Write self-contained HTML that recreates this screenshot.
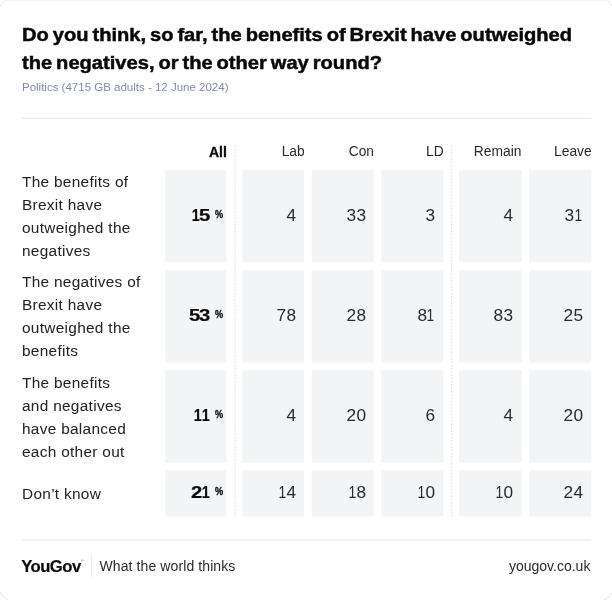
<!DOCTYPE html>
<html lang="en">
<head>
<meta charset="utf-8">
<title>YouGov</title>
<style>
*{box-sizing:border-box;margin:0;padding:0}
html,body{width:612px;height:600px;background:#fff;overflow:hidden}
body{font-family:"Liberation Sans",sans-serif;color:#222;position:relative}
.card{position:absolute;left:0;top:0;width:612px;height:600px;background:#fff}
.edge{position:absolute;left:0;top:0;width:612px;height:600px;pointer-events:none}
#wrap{position:absolute;left:0;top:0;width:612px;height:600px;will-change:transform}
.abs{position:absolute;white-space:nowrap}
h1{position:absolute;left:21.6px;top:21.2px;font-size:18.2px;line-height:28.3px;font-weight:700;color:#080808;white-space:nowrap;word-spacing:-1.5px;transform:scaleX(1.106);transform-origin:0 0;-webkit-text-stroke:.45px #080808}
.sub{left:22px;top:79.6px;font-size:11.5px;line-height:14px;color:#848aaa}
.h{position:absolute;font-size:13.8px;line-height:16px;text-align:right;width:80px;color:#2a2a2a;white-space:nowrap;top:144.2px;transform:translateY(.4px)}
.h.b{font-weight:700;font-size:14px;color:#0b0b0b;-webkit-text-stroke:.3px #0b0b0b}
.lbl{position:absolute;left:22px;font-size:15.4px;line-height:23px;letter-spacing:.3px;color:#222;white-space:nowrap}
.n{position:absolute;font-size:15.7px;line-height:18px;text-align:right;width:60px;color:#2a2a2a;white-space:nowrap}
.n.b{font-weight:700;font-size:16.6px;color:#0b0b0b;-webkit-text-stroke:.2px #0b0b0b}
.d{display:inline-block;transform:scaleX(1.1);margin:0 .62px}
.d1{margin:0 -.6px;transform:scaleX(.88)}
.d1:last-child{margin-right:.3px}
.n.b .d{transform:scaleX(1.22);margin:0 .63px}
.n.b .d1{margin:0 -.9px;transform:scaleX(.86)}
.n.b .d1:last-child{margin-right:.2px}
.p{position:absolute;font-size:10.4px;line-height:10px;font-weight:700;color:#0b0b0b;transform:scaleX(.88);transform-origin:0 0;-webkit-text-stroke:.3px #0b0b0b}
</style>
</head>
<body>
<div class="card"></div>
<div id="wrap">
<svg class="edge" viewBox="0 0 612 600" aria-hidden="true">
<rect x="4" y="0" width="604" height="1.3" fill="#f3f5f8"/>
<g fill="none" stroke="#dfe5ea" stroke-width="1" stroke-linecap="round">
<path d="M-0.2 7 Q1.4 3 4.4 0.8"/>
<path d="M607.8 0.8 Q610.6 2.6 612.2 6"/>
<path d="M0 591.6 A14 14 0 0 0 8.5 600"/>
<path d="M612 592.7 A14 14 0 0 1 604 600"/>
</g>
</svg>
<h1>Do you think, so far, the benefits of Brexit have outweighed<br>the negatives, or the other way round?</h1>
<div class="abs sub">Politics (4715 GB adults - 12 June 2024)</div>

<div class="h b" style="left:146.8px">All</div>
<div class="h" style="left:224.7px">Lab</div>
<div class="h" style="left:294.0px">Con</div>
<div class="h" style="left:363.7px">LD</div>
<div class="h" style="left:441.4px">Remain</div>
<div class="h" style="left:511.7px">Leave</div>
<svg class="edge" viewBox="0 0 612 600" aria-hidden="true">
<g fill="#f3f4f6">
<rect x="165.1" y="169.9" width="61.30" height="92.40"/>
<rect x="242.5" y="169.9" width="61.50" height="92.40"/>
<rect x="311.6" y="169.9" width="62.20" height="92.40"/>
<rect x="381.4" y="169.9" width="62.00" height="92.40"/>
<rect x="458.9" y="169.9" width="62.80" height="92.40"/>
<rect x="529.3" y="169.9" width="62.10" height="92.40"/>
<rect x="165.1" y="270.3" width="61.30" height="92.20"/>
<rect x="242.5" y="270.3" width="61.50" height="92.20"/>
<rect x="311.6" y="270.3" width="62.20" height="92.20"/>
<rect x="381.4" y="270.3" width="62.00" height="92.20"/>
<rect x="458.9" y="270.3" width="62.80" height="92.20"/>
<rect x="529.3" y="270.3" width="62.10" height="92.20"/>
<rect x="165.1" y="370.3" width="61.30" height="92.30"/>
<rect x="242.5" y="370.3" width="61.50" height="92.30"/>
<rect x="311.6" y="370.3" width="62.20" height="92.30"/>
<rect x="381.4" y="370.3" width="62.00" height="92.30"/>
<rect x="458.9" y="370.3" width="62.80" height="92.30"/>
<rect x="529.3" y="370.3" width="62.10" height="92.30"/>
<rect x="165.1" y="470.3" width="61.30" height="46.10"/>
<rect x="242.5" y="470.3" width="61.50" height="46.10"/>
<rect x="311.6" y="470.3" width="62.20" height="46.10"/>
<rect x="381.4" y="470.3" width="62.00" height="46.10"/>
<rect x="458.9" y="470.3" width="62.80" height="46.10"/>
<rect x="529.3" y="470.3" width="62.10" height="46.10"/>
</g>
<g stroke="#e3e4ea" stroke-width="1.3" stroke-dasharray="1.6 1.67" fill="none">
<path d="M235.1 145.6V516.6"/><path d="M451.6 145.6V516.6"/>
</g>
<g fill="#e9e9ee"><rect x="20.8" y="117.8" width="570.5" height="1.2"/><rect x="20.8" y="539.3" width="570.5" height="1.2"/></g>
</svg>
<div class="n b" style="left:150.2px;top:206.7px"><span class="d d1">1</span><span class="d">5</span></div>
<div class="p" style="left:215.0px;top:210.0px">%</div>
<div class="n" style="left:236.1px;top:206.8px"><span class="d">4</span></div>
<div class="n" style="left:305.9px;top:206.8px"><span class="d">3</span><span class="d">3</span></div>
<div class="n" style="left:375.4px;top:206.8px"><span class="d">3</span></div>
<div class="n" style="left:453.5px;top:206.8px"><span class="d">4</span></div>
<div class="n" style="left:523.0px;top:206.8px"><span class="d">3</span><span class="d d1">1</span></div>
<div class="n b" style="left:150.2px;top:306.7px"><span class="d">5</span><span class="d">3</span></div>
<div class="p" style="left:215.0px;top:310.0px">%</div>
<div class="n" style="left:236.1px;top:306.8px"><span class="d">7</span><span class="d">8</span></div>
<div class="n" style="left:305.9px;top:306.8px"><span class="d">2</span><span class="d">8</span></div>
<div class="n" style="left:375.4px;top:306.8px"><span class="d">8</span><span class="d d1">1</span></div>
<div class="n" style="left:453.5px;top:306.8px"><span class="d">8</span><span class="d">3</span></div>
<div class="n" style="left:523.0px;top:306.8px"><span class="d">2</span><span class="d">5</span></div>
<div class="n b" style="left:150.2px;top:406.7px"><span class="d d1">1</span><span class="d d1">1</span></div>
<div class="p" style="left:215.0px;top:410.0px">%</div>
<div class="n" style="left:236.1px;top:406.8px"><span class="d">4</span></div>
<div class="n" style="left:305.9px;top:406.8px"><span class="d">2</span><span class="d">0</span></div>
<div class="n" style="left:375.4px;top:406.8px"><span class="d">6</span></div>
<div class="n" style="left:453.5px;top:406.8px"><span class="d">4</span></div>
<div class="n" style="left:523.0px;top:406.8px"><span class="d">2</span><span class="d">0</span></div>
<div class="n b" style="left:150.2px;top:483.7px"><span class="d">2</span><span class="d d1">1</span></div>
<div class="p" style="left:215.0px;top:487.0px">%</div>
<div class="n" style="left:236.1px;top:483.8px"><span class="d d1">1</span><span class="d">4</span></div>
<div class="n" style="left:305.9px;top:483.8px"><span class="d d1">1</span><span class="d">8</span></div>
<div class="n" style="left:375.4px;top:483.8px"><span class="d d1">1</span><span class="d">0</span></div>
<div class="n" style="left:453.5px;top:483.8px"><span class="d d1">1</span><span class="d">0</span></div>
<div class="n" style="left:523.0px;top:483.8px"><span class="d">2</span><span class="d">4</span></div>
<div class="lbl" style="top:170.3px">The benefits of<br>Brexit have<br>outweighed the<br>negatives</div>
<div class="lbl" style="top:270.3px">The negatives of<br>Brexit have<br>outweighed the<br>benefits</div>
<div class="lbl" style="top:370.8px">The benefits<br>and negatives<br>have balanced<br>each other out</div>
<div class="lbl" style="top:482.3px">Don’t know</div>
<div class="abs" style="left:21.2px;top:556.9px;font-size:16.7px;line-height:20px;font-weight:700;letter-spacing:-0.55px;color:#0b0b0b;-webkit-text-stroke:.2px #0b0b0b">YouGov</div>
<div class="abs" style="left:81px;top:559px;font-size:3.5px;line-height:4px;color:#666">®</div>
<div class="abs" style="left:90.5px;top:555.5px;width:1px;height:21.5px;background:#e6e6f0"></div>
<div class="abs" style="left:99.5px;top:557px;font-size:14px;line-height:18px;letter-spacing:.1px;color:#2a2a2a">What the world thinks</div>
<div class="abs" style="right:21.6px;top:557px;font-size:14px;line-height:18px;color:#2a2a2a">yougov.co.uk</div>
</div>
</body>
</html>
